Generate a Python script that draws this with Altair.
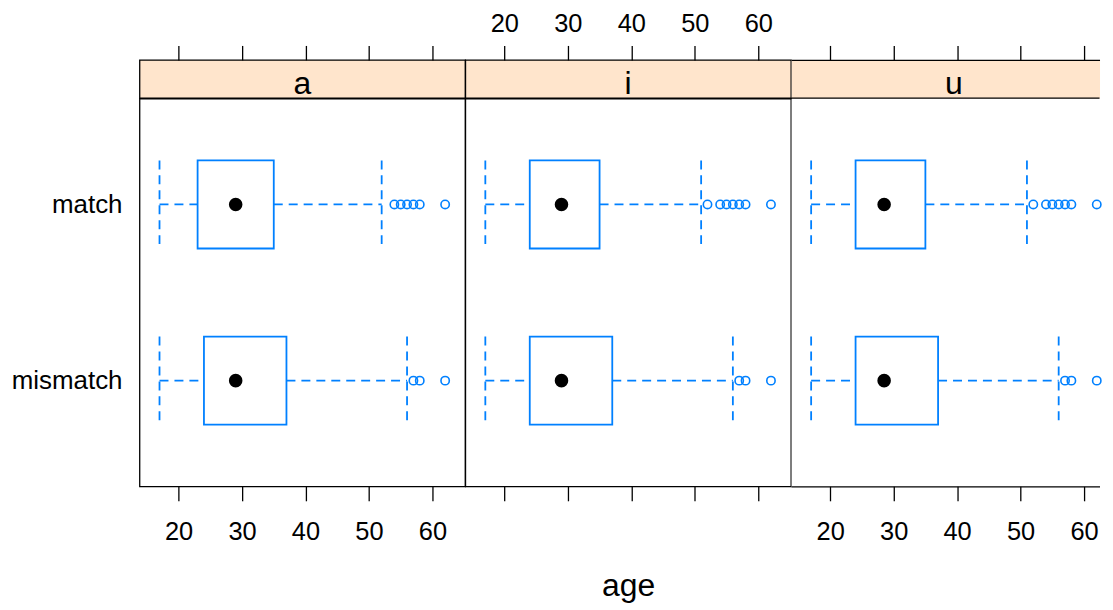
import altair as alt
import pandas as pd

# ---------------- data ----------------
panels = ["a", "i", "u"]
groups = ["match", "mismatch"]
# per panel: [match, mismatch]
lower_whisker = {"a": [17, 17], "i": [17, 17], "u": [17, 17]}
q1_values = {"a": [23, 24], "i": [24, 24], "u": [24, 24]}
median_values = {"a": [29, 29], "i": [29, 29], "u": [28.5, 28.5]}
q3_values = {"a": [35, 37], "i": [35, 37], "u": [35, 37]}
upper_whisker = {"a": [52, 56], "i": [51, 56], "u": [51, 56]}
outlier_values = {
    "a": [[54, 55, 56, 57, 58, 62], [57, 58, 62]],
    "i": [[52, 54, 55, 56, 57, 58, 62], [57, 58, 62]],
    "u": [[52, 54, 55, 56, 57, 58, 62], [57, 58, 62]],
}
x_ticks = [20, 30, 40, 50, 60]
x_domain = [13.85, 65.15]
y_domain = [0.4, 2.6]
x_title = "age"

# ---------------- tables ----------------
box_rows, out_rows = [], []
for p in panels:
    for gi, g in enumerate(groups):
        box_rows.append({"panel": p, "group": g, "pos": gi + 1,
                         "lo": lower_whisker[p][gi], "q1": q1_values[p][gi],
                         "med": median_values[p][gi], "q3": q3_values[p][gi],
                         "hi": upper_whisker[p][gi]})
        for v in outlier_values[p][gi]:
            out_rows.append({"panel": p, "group": g, "pos": gi + 1, "age": v})
box_df = pd.DataFrame(box_rows)
out_df = pd.DataFrame(out_rows)

# ---------------- styling ----------------
BLUE = "#0080ff"
STRIP = "#ffe5cc"
FONT = "Liberation Sans"
W, H, SH = 326.8, 389, 38.3
W_LAST = 309.5  # the last panel is cut by the picture's right edge
DASH = [9, 6]
LW = 1.8
TICK = 14.5
LABEL_FS = 25.5
YLABEL_FS = 26
BIG_FS = 32
BORDER = 1.3
label_expr = "[" + ",".join("'%s'" % g for g in groups) + "][datum.value - 1]"

ys = alt.Scale(domain=y_domain, reverse=True, nice=False, zero=False)


def x_scale(idx):
    if idx == len(panels) - 1:
        end = x_domain[0] + (x_domain[1] - x_domain[0]) * W_LAST / W
        return alt.Scale(domain=[x_domain[0], end], nice=False, zero=False)
    return alt.Scale(domain=x_domain, nice=False, zero=False)


def panel_width(idx):
    return W_LAST if idx == len(panels) - 1 else W


def bottom_axis(show_labels, title, domain):
    kw = dict(values=x_ticks, orient="bottom", domain=domain, domainColor="black",
              domainWidth=BORDER, grid=False, ticks=True,
              tickSize=TICK, tickColor="black", tickWidth=BORDER, labels=show_labels,
              labelFontSize=LABEL_FS, labelColor="black", labelPadding=18.4,
              labelFont=FONT)
    if title:
        kw.update(title=title, titleFontSize=BIG_FS, titleFont=FONT, titleFontWeight="normal",
                  titleColor="black", titleY=110, titleBaseline="alphabetic")
    else:
        kw.update(title=None)
    return alt.Axis(**kw)


def top_axis(show_labels, domain):
    return alt.Axis(values=x_ticks, orient="top", domain=domain, domainColor="black",
                    domainWidth=BORDER, grid=False, ticks=True,
                    tickSize=TICK, tickColor="black", tickWidth=BORDER, labels=show_labels,
                    labelFontSize=LABEL_FS, labelColor="black", labelPadding=9.4,
                    labelFont=FONT, title=None)


def left_axis():
    return alt.Axis(values=[1, 2], orient="left", domain=False, grid=False, ticks=False,
                    labelExpr=label_expr, labelFontSize=YLABEL_FS, labelColor="black",
                    labelPadding=17.6, labelFont=FONT, title=None)


def view_bg(fill, last):
    if last:
        return alt.ViewBackground(fill=fill, stroke="transparent")
    return alt.ViewBackground(fill=fill, stroke="black", strokeWidth=BORDER)


def panel_chart(idx, p):
    last = idx == len(panels) - 1
    xs = x_scale(idx)
    xa = bottom_axis(idx != 1, x_title if idx == 1 else None, last)
    ya = left_axis() if idx == 0 else None
    base = alt.Chart(box_df[box_df.panel == p]).transform_calculate(
        ylo="datum.pos - 0.25", yhi="datum.pos + 0.25")

    def X(f):
        return alt.X(f, scale=xs, axis=xa, title=x_title if idx == 1 else None)

    def Y(f):
        return alt.Y(f, scale=ys, axis=ya, title=None)

    w_lo = base.mark_rule(color=BLUE, strokeDash=DASH, strokeWidth=LW).encode(
        x=X("lo:Q"), x2="q1:Q", y=Y("pos:Q"))
    w_hi = base.mark_rule(color=BLUE, strokeDash=DASH, strokeWidth=LW).encode(
        x=X("q3:Q"), x2="hi:Q", y=Y("pos:Q"))
    c_lo = base.mark_rule(color=BLUE, strokeDash=DASH, strokeWidth=LW).encode(
        x=X("lo:Q"), y=Y("ylo:Q"), y2="yhi:Q")
    c_hi = base.mark_rule(color=BLUE, strokeDash=DASH, strokeWidth=LW).encode(
        x=X("hi:Q"), y=Y("ylo:Q"), y2="yhi:Q")
    box = base.mark_rect(fill="white", stroke=BLUE, strokeWidth=LW).encode(
        x=X("q1:Q"), x2="q3:Q", y=Y("ylo:Q"), y2="yhi:Q")
    med = base.mark_point(filled=True, shape="circle", size=185, color="black",
                          opacity=1).encode(x=X("med:Q"), y=Y("pos:Q"))
    outl = alt.Chart(out_df[out_df.panel == p]).mark_point(
        shape="circle", filled=False, size=70, color=BLUE, strokeWidth=1.6,
        opacity=1).encode(x=X("age:Q"), y=Y("pos:Q"))
    return alt.layer(w_lo, w_hi, c_lo, c_hi, box, med, outl).properties(
        width=panel_width(idx), height=H, view=view_bg("white", last))


def strip_chart(idx, p):
    last = idx == len(panels) - 1
    xs = x_scale(idx)
    df = pd.DataFrame({"panel": [p], "xmid": [(x_domain[0] + x_domain[1]) / 2]})
    label = alt.Chart(df).mark_text(fontSize=BIG_FS, font=FONT, baseline="alphabetic",
                                    color="black").encode(
        x=alt.X("xmid:Q", scale=xs, axis=top_axis(idx == 1, last), title=None),
        y=alt.value(34),
        text="panel:N",
    )
    if not last:
        return label.properties(width=panel_width(idx), height=SH,
                                view=view_bg(STRIP, False))
    # last (cut) strip: its lower border line
    edge = alt.Chart(df).mark_rule(color="black", strokeWidth=BORDER).encode(
        x=alt.value(0), x2=alt.value(W_LAST), y=alt.value(SH))
    return alt.layer(label, edge).properties(
        width=panel_width(idx), height=SH, view=view_bg(STRIP, True))


cells = [strip_chart(i, p) for i, p in enumerate(panels)] + \
        [panel_chart(i, p) for i, p in enumerate(panels)]

chart = alt.concat(*cells, columns=3, spacing=0, bounds="flush", align="each").properties(
    padding={"left": 2, "top": 1, "right": 0, "bottom": -1}
).configure(font=FONT)

chart.save("out.html", embed_options={"renderer": "svg", "actions": False})
